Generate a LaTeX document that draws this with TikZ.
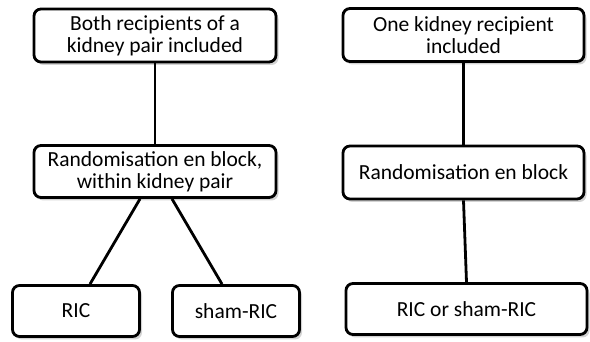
\documentclass[tikz,border=0pt]{standalone}
\usepackage{fontspec}
\setmainfont{Carlito}
\usetikzlibrary{shadows}

\begin{document}
\begin{tikzpicture}[x=1pt,y=1pt,
	box/.style={draw,line width=2.8pt,rounded corners=7pt,fill=white,align=center,
		font=\fontsize{21.5}{22}\selectfont,inner sep=0pt,
		drop shadow={opacity=0.35,shadow xshift=2.5pt,shadow yshift=-3pt}},
	link/.style={line width=2.8pt}]
	
	\useasboundingbox (0,0) rectangle (590,342);
	
	% left branch
	\node[box,minimum width=242pt,minimum height=53pt] (both) at (155,306.5) {Both recipients of a\\kidney pair included};
	\node[box,minimum width=242pt,minimum height=52pt] (randpair) at (155,170.5) {Randomisation en block,\\within kidney pair};
	\node[box,minimum width=127pt,minimum height=51pt] (ric) at (76,31) {RIC};
	\node[box,minimum width=127pt,minimum height=51pt] (sham) at (236,31) {sham-RIC};
	
	% right branch
	\node[box,minimum width=241pt,minimum height=53pt] (one) at (463.5,307) {One kidney recipient\\included};
	\node[box,minimum width=241pt,minimum height=53pt] (rand) at (463.5,169.5) {Randomisation en block};
	\node[box,minimum width=241pt,minimum height=51pt] (either) at (466.5,33) {RIC or sham-RIC};
	
	\draw[link] (both.south) -- (randpair.north);
	\draw[link] ([xshift=-15pt]randpair.south) -- ([xshift=14pt]ric.north);
	\draw[link] ([xshift=17pt]randpair.south) -- ([xshift=-14pt]sham.north);
	\draw[link] (one.south) -- (rand.north);
	\draw[link] (rand.south) -- (either.north);
	
\end{tikzpicture}
\end{document}
